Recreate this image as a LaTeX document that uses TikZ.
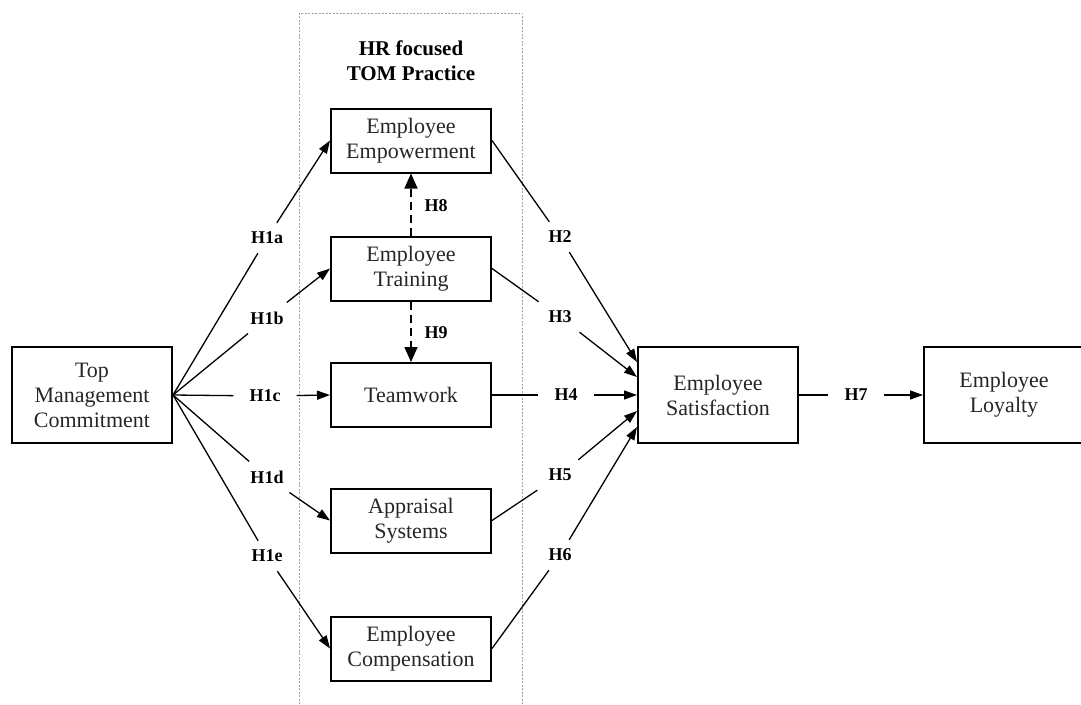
\documentclass[tikz,border=0pt]{standalone}
\usepackage{fontspec}
\setmainfont{Liberation Serif}
\usetikzlibrary{arrows.meta}
\begin{document}
\begin{tikzpicture}[x=1pt,y=-1pt,
  box/.style={draw, line width=2pt, minimum width=160pt, minimum height=64pt,
    align=center, inner sep=0pt, text=black!85, font=\fontsize{22}{25}\selectfont},
  bigbox/.style={box, minimum height=96pt},
  groupframe/.style={draw=gray!75, line width=0.8pt, dash pattern=on 2pt off 1.5pt,
    minimum width=223pt, minimum height=720pt, inner sep=0pt},
  hyp/.style={font=\fontsize{18}{20}\selectfont\bfseries, inner xsep=16pt, inner ysep=9pt},
  link/.style={line width=1.3pt},
  arr/.style={link, -{Triangle[length=13pt,width=9pt]}},
  darr/.style={line width=1.6pt, dash pattern=on 8pt off 5pt,
    -{Triangle[length=15pt,width=13pt]}},
]
\useasboundingbox (0,0) rectangle (1081,704);

% group frame for the HR practices
\node[groupframe] (hrgroup) at (410.5,373) {};
\node[font=\fontsize{21}{25}\selectfont\bfseries, align=center] (title) at (411,61)
  {HR focused\\TOM Practice};

% constructs
\node[bigbox] (tmc)  at (92,395)    {Top\\Management\\Commitment};
\node[box]    (emp)  at (411,140.5) {Employee\\Empowerment};
\node[box]    (trn)  at (411,268.5) {Employee\\Training};
\node[box]    (team) at (411,395)   {Teamwork};
\node[box]    (appr) at (411,520.5) {Appraisal\\Systems};
\node[box]    (comp) at (411,648.5) {Employee\\Compensation};
\node[bigbox] (sat)  at (718,395)   {Employee\\Satisfaction};
\node[bigbox] (loy)  at (1004,395)  {Employee\\Loyalty};

% hypothesis labels
\node[hyp] (h1a) at (267,238) {H1a};
\node[hyp] (h1b) at (267,318) {H1b};
\node[hyp] (h1c) at (265,396) {H1c};
\node[hyp] (h1d) at (267,477) {H1d};
\node[hyp] (h1e) at (267,556) {H1e};
\node[hyp] (h2)  at (560,237) {H2};
\node[hyp] (h3)  at (560,317) {H3};
\node[hyp] (h4)  at (566,395) {H4};
\node[hyp] (h5)  at (560,475) {H5};
\node[hyp] (h6)  at (560,555) {H6};
\node[hyp] (h7)  at (856,395) {H7};
\node[hyp, inner sep=2pt] (h8) at (436,206) {H8};
\node[hyp, inner sep=2pt] (h9) at (436,333) {H9};

% arrow ends on the satisfaction box
\coordinate (s2) at ([yshift=33pt]sat.west);
\coordinate (s3) at ([yshift=18pt]sat.west);
\coordinate (s5) at ([yshift=-16pt]sat.west);
\coordinate (s6) at ([yshift=-32pt]sat.west);

% top management commitment to the practices
\draw[link] (tmc.east) -- (h1a); \draw[arr] (h1a) -- (emp.west);
\draw[link] (tmc.east) -- (h1b); \draw[arr] (h1b) -- (trn.west);
\draw[link] (tmc.east) -- (h1c); \draw[arr] (h1c) -- (team.west);
\draw[link] (tmc.east) -- (h1d); \draw[arr] (h1d) -- (appr.west);
\draw[link] (tmc.east) -- (h1e); \draw[arr] (h1e) -- (comp.west);

% practices to satisfaction
\draw[link] (emp.east)  -- (h2); \draw[arr] (h2) -- (s2);
\draw[link] (trn.east)  -- (h3); \draw[arr] (h3) -- (s3);
\draw[link] (team.east) -- (h4); \draw[arr] (h4) -- (sat.west);
\draw[link] (appr.east) -- (h5); \draw[arr] (h5) -- (s5);
\draw[link] (comp.east) -- (h6); \draw[arr] (h6) -- (s6);

% satisfaction to loyalty
\draw[link] (sat.east) -- (h7); \draw[arr] (h7) -- (loy.west);

% training effects
\draw[darr] (trn) -- (emp);
\draw[darr] (trn) -- (team);
\end{tikzpicture}
\end{document}
